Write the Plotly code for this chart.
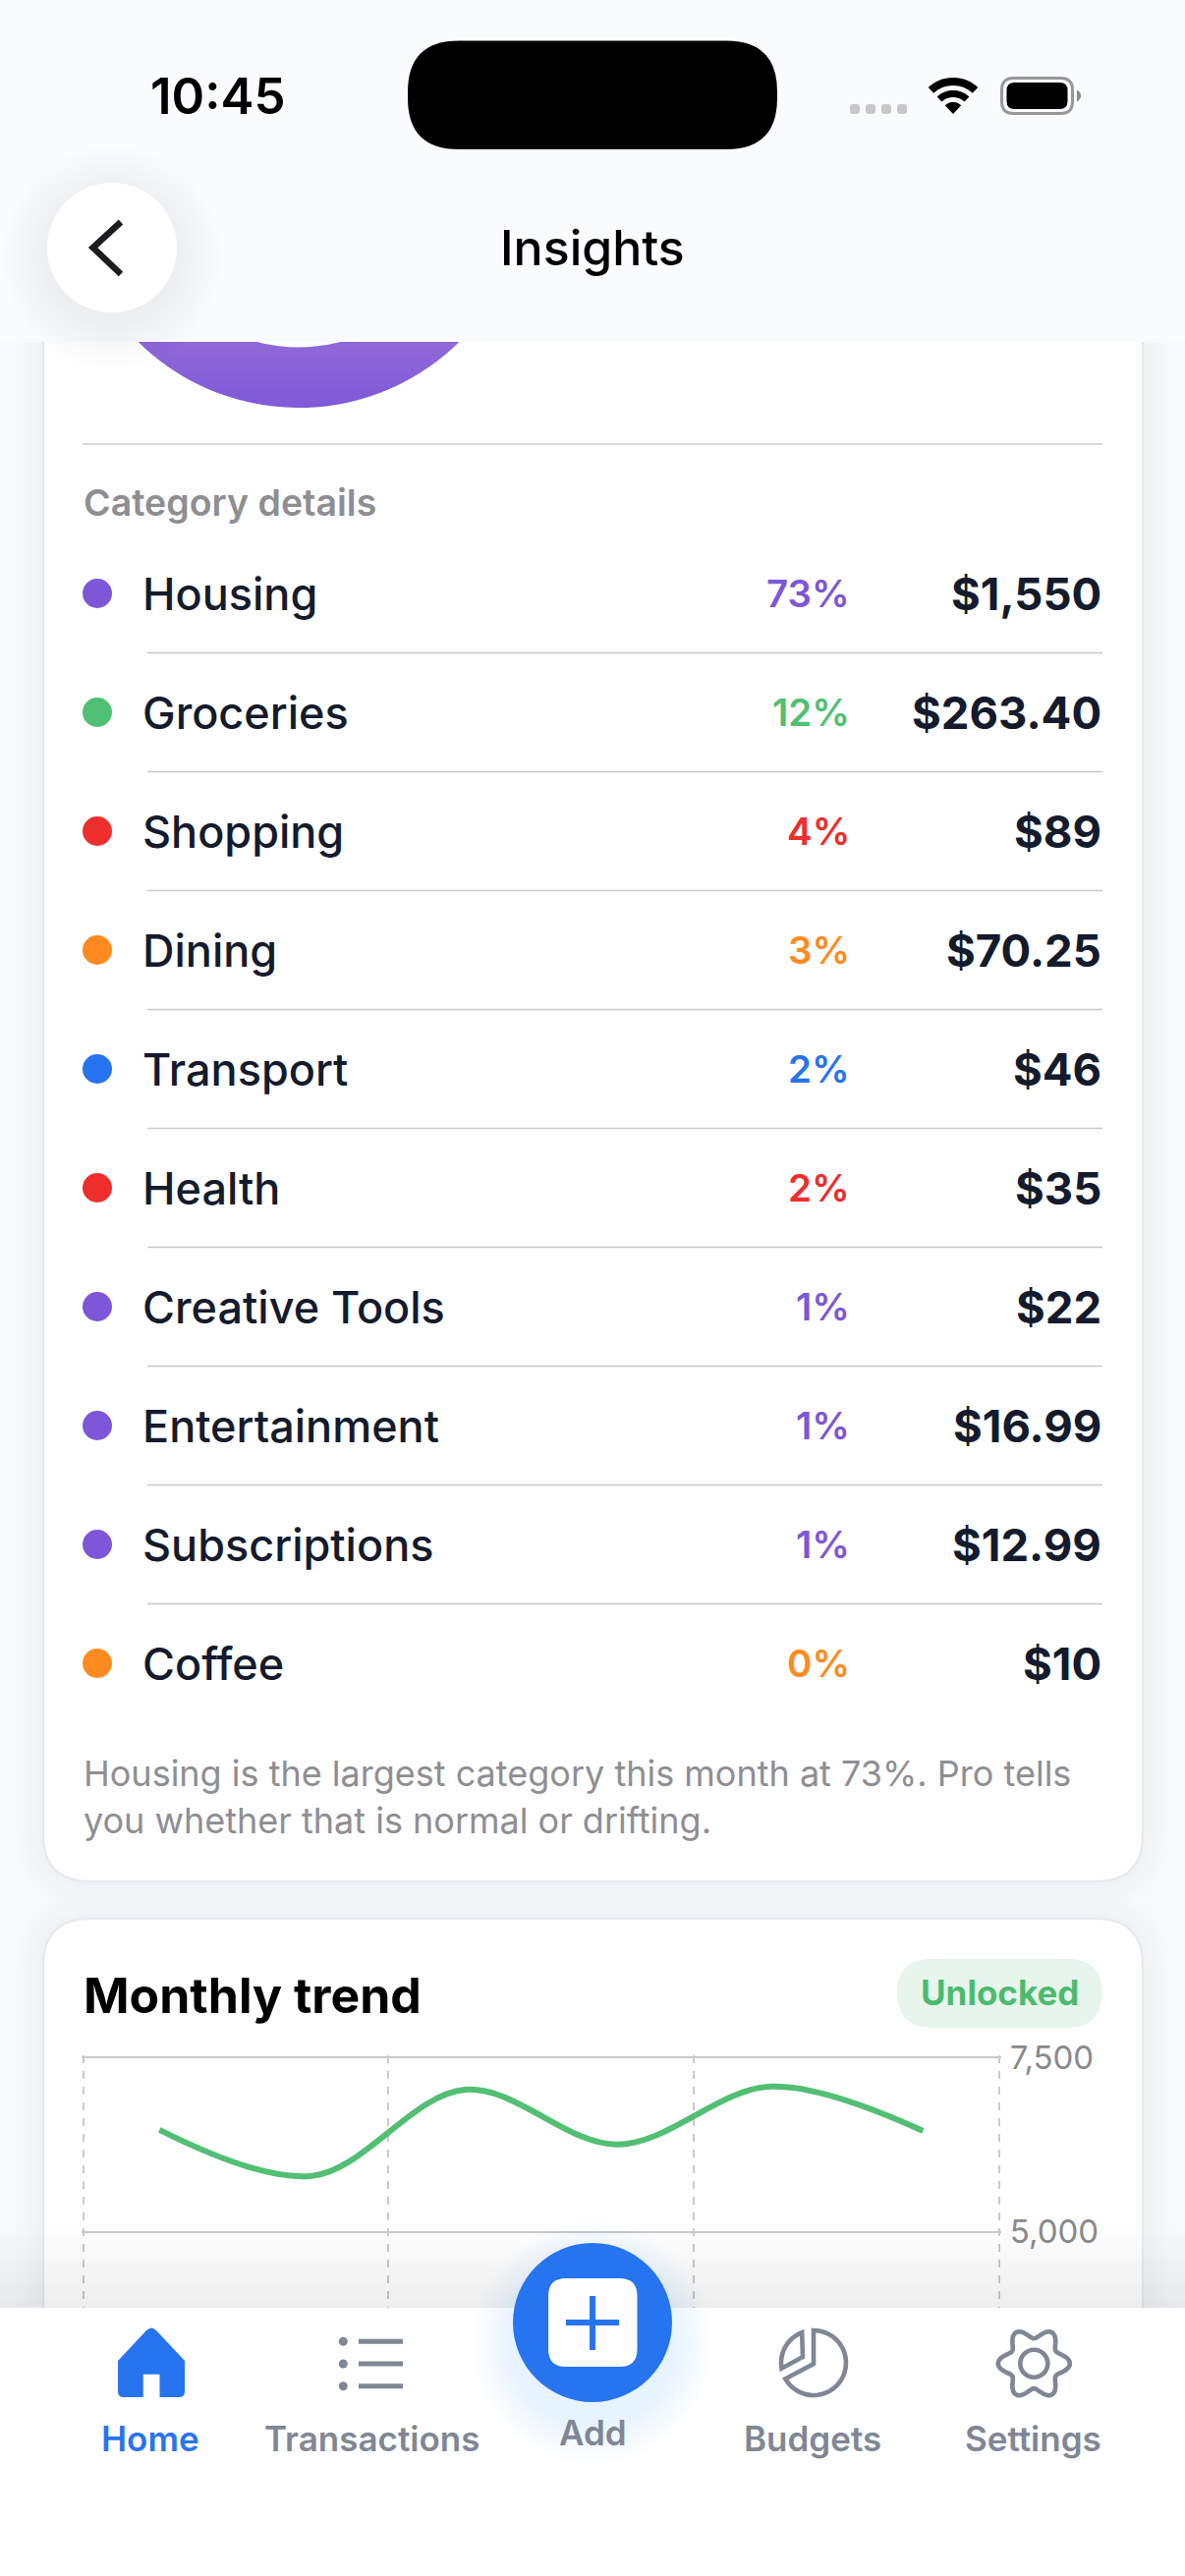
import numpy as np
import plotly.graph_objects as go

# category table
categories = ['Housing', 'Groceries', 'Shopping', 'Dining', 'Transport', 'Health',
              'Creative Tools', 'Entertainment', 'Subscriptions', 'Coffee']
percents = ['73%', '12%', '4%', '3%', '2%', '2%', '1%', '1%', '1%', '0%']
amounts = [1550, 263.40, 89, 70.25, 46, 35, 22, 16.99, 12.99, 10]
amount_labels = ['$1,550', '$263.40', '$89', '$70.25', '$46', '$35', '$22', '$16.99', '$12.99', '$10']
cat_colors = ['#7d57d8', '#4fc074', '#ee2d2d', '#ff8a1f', '#2774f0', '#ee2d2d',
              '#7d57d8', '#7d57d8', '#7d57d8', '#ff8a1f']

# monthly trend, only the top of it shows above the tab bar
month_index = [0, 1, 2, 3, 4, 5]
month_totals = [6460, 5800, 7035, 6250, 7080, 6445]
y_ticks = [5000, 7500]
x_grid = [-0.5, 1.5, 3.5, 5.5]

tab_labels = ['Home', 'Transactions', 'Add', 'Budgets', 'Settings']
tab_x = [153, 378, 603, 827, 1051.5]

W, H = 1206, 2622
# the donut starts above the top of the screen, so the figure is taller and the page is shifted up
OFF, EXTRA = 60, 12
TOTAL = H + OFF + EXTRA

INK = '#141b2d'
GREY = '#8e8e93'
ICON = '#7f8795'
BLUE = '#2774f0'
RULE = '#c9c9ce'
FONT = 'Inter'

shapes = []
notes = []


def paper_y(y):
    return 1 - (y + OFF) / TOTAL


def rrect(x0, y0, x1, y1, r):
    return (f'M{x0+r},{y0} L{x1-r},{y0} Q{x1},{y0} {x1},{y0+r} L{x1},{y1-r} Q{x1},{y1} {x1-r},{y1} '
            f'L{x0+r},{y1} Q{x0},{y1} {x0},{y1-r} L{x0},{y0+r} Q{x0},{y0} {x0+r},{y0} Z')


def arc(cx, cy, r, a0, a1, n=40, start='M'):
    # angles in degrees, clockwise from 12 o'clock
    a = np.radians(np.linspace(a0, a1, n))
    xs = cx + r * np.sin(a)
    ys = cy - r * np.cos(a)
    return start + ' L'.join(f'{x:.2f},{y:.2f}' for x, y in zip(xs, ys))


def path(d, fill='rgba(0,0,0,0)', color=None, width=0, layer='above'):
    shapes.append(dict(type='path', path=d, xref='x', yref='y', fillcolor=fill, layer=layer,
                       line=dict(color=color or 'rgba(0,0,0,0)', width=width)))


def circle(cx, cy, r, fill, color=None, width=0, layer='above'):
    shapes.append(dict(type='circle', x0=cx-r, x1=cx+r, y0=cy-r, y1=cy+r, xref='x', yref='y',
                       fillcolor=fill, layer=layer,
                       line=dict(color=color or 'rgba(0,0,0,0)', width=width)))


def box(x0, y0, x1, y1, fill, layer='above'):
    shapes.append(dict(type='rect', x0=x0, x1=x1, y0=y0, y1=y1, xref='x', yref='y',
                       fillcolor=fill, layer=layer, line=dict(width=0)))


def seg(x0, y0, x1, y1, color=RULE, width=1.7, layer='below'):
    shapes.append(dict(type='line', x0=x0, x1=x1, y0=y0, y1=y1, xref='x', yref='y',
                       layer=layer, line=dict(color=color, width=width)))


def text(s, x, y, size, color, weight=400, anchor='left'):
    notes.append(dict(text=s, x=x, y=y, xref='x', yref='y', xanchor=anchor, yanchor='middle',
                      showarrow=False, align=anchor,
                      font=dict(family=FONT, size=size, color=color, weight=weight)))


# --- page and cards
box(0, -OFF, W, H + EXTRA, '#f8f9fd', layer='below')
for card in [(44, 200, 1163, 1915), (44, 1953, 1163, 2700)]:
    for i in range(7, 0, -1):
        path(rrect(card[0]-i*4, card[1]-i*4, card[2]+i*4, card[3]+i*4, 48+i*4),
             fill='rgba(0,0,0,0.0045)', layer='below')
for card in [(44, 200, 1163, 1915), (44, 1953, 1163, 2700)]:
    path(rrect(*card, 48), fill='#fefefe', color='#e6e8ee', width=2, layer='below')

# --- category rows
seg(84, 452, 1122, 452)
text('Category details', 83, 511, 37.5, GREY, 600)
row_y = [604 + 121 * i for i in range(len(categories))]
for i, name in enumerate(categories):
    text(name, 142.5, row_y[i], 45, INK, 500)
    text(percents[i], 866.5, row_y[i], 38.5, cat_colors[i], 600, 'right')
    text(amount_labels[i], 1123, row_y[i], 45.5, INK, 700, 'right')
    if i < len(categories) - 1:
        seg(150, row_y[i] + 60.5, 1122, row_y[i] + 60.5)
text('Housing is the largest category this month at 73%. Pro tells', 83, 1805, 36, GREY)
text('you whether that is normal or drifting.', 83, 1853, 36, GREY)

# --- monthly trend heading
text('Monthly trend', 83, 2031, 50, '#000000', 700)
path(rrect(913, 1994, 1121.5, 2063.5, 34.7), fill='#e8f5ec', layer='below')
text('Unlocked', 1017, 2028, 35, '#4cbb70', 700, 'center')

# --- fade into the tab bar and out of the header
for j in range(16):
    box(0, 2268 + j*5, W, 2349, 'rgba(0,0,0,0.005)')
for i in range(18):
    box(0, 348, W, 420 - i*4, 'rgba(255,255,255,0.012)')

# --- header
box(0, -OFF, W, 348, '#fafbff')
text('10:45', 222, 97, 51, '#000000', 600, 'center')
text('Insights', 603, 252, 50, '#000000', 500, 'center')
path(rrect(415, 41.5, 791, 152, 52), fill='#000000')

for x in [870, 886, 902, 918]:
    path(rrect(x-5, 106, x+5, 116, 3), fill='#c8c8cc')
# wifi fan
for r_out, r_in in [(37, 29), (24, 17)]:
    d = arc(970, 116, r_out, -43, 43, 24) + arc(970, 116, r_in, 43, -43, 24, ' L') + ' Z'
    path(d, fill='#000000')
path(arc(970, 116, 12, -43, 43, 10) + ' L970,116 Z', fill='#000000')
# battery
path(rrect(1019.5, 79.5, 1091.5, 115.5, 12), color='#98989c', width=3)
path(rrect(1024.5, 84, 1086.5, 111, 8), fill='#000000')
path('M1096,91.5 Q1100,94 1100,97.5 Q1100,101 1096,103.5 Z', fill='#8a8a8e')

# back button with its soft shadow
for i in range(12, 0, -1):
    circle(114, 262, 66 + i*4, 'rgba(0,0,0,0.0045)')
circle(114, 252, 66, '#ffffff')
path('M123,226 L94.6,252 L123,279', color='#1c1c22', width=6.5)

# --- tab bar
box(0, 2349, W, H + EXTRA, '#ffffff')
# home
path('M120,2403 L149,2372 Q154,2367 159,2372 L188,2403 L188,2434 Q188,2440 182,2440 L162.5,2440 '
     'L162.5,2416.7 L145.7,2416.7 L145.7,2440 L126,2440 Q120,2440 120,2434 Z', fill=BLUE)
# list
for y in [2383.3, 2406, 2428.7]:
    circle(349.3, y, 4.5, ICON)
    seg(365, y, 410, y, color=ICON, width=5, layer='above')
# budgets pie
path(arc(828, 2405, 33, 0, 240.5) + ' L828,2406 Z', color=ICON, width=4.6)
path(arc(828, 2405, 33, 260, 339, 16) + ' L817,2399 Z', color=ICON, width=4.6)
# settings gear
gear_a = np.linspace(0, 360, 145)
gear_r = 31 + 5.5 * np.cos(np.radians(6 * (gear_a - 30)))
gear_x = 1052.3 + gear_r * np.sin(np.radians(gear_a))
gear_y = 2405.7 - gear_r * np.cos(np.radians(gear_a))
path('M' + ' L'.join(f'{x:.2f},{y:.2f}' for x, y in zip(gear_x, gear_y)) + ' Z', color=ICON, width=4.6)
circle(1052.3, 2405.7, 14, 'rgba(0,0,0,0)', color=ICON, width=4.6)

# add button, glow sits on top of the bar
for i in range(12, 0, -1):
    circle(603, 2385, 81 + i*3.5, 'rgba(39,116,240,0.007)')
circle(603, 2364, 81, BLUE)
path(rrect(558, 2319, 648.5, 2409, 18), fill='#ffffff')
seg(603, 2337, 603, 2392, color=BLUE, width=6, layer='above')
seg(576, 2364, 630, 2364, color=BLUE, width=6, layer='above')

for i, label in enumerate(tab_labels):
    col = BLUE if label == 'Home' else ICON
    text(label, tab_x[i], 2475.5 if label == 'Add' else 2482, 35, col, 600, 'center')

# --- traces
fig = go.Figure()
fig.add_trace(go.Pie(labels=categories, values=amounts, hole=0.736, sort=False, direction='clockwise',
                     rotation=0, textinfo='none', hoverinfo='label+value',
                     marker=dict(colors=cat_colors, line=dict(width=0)),
                     domain=dict(x=[71 / W, 537 / W], y=[paper_y(415), paper_y(-51)])))
fig.add_trace(go.Scatter(x=[99] * len(categories), y=row_y, mode='markers', text=categories,
                         marker=dict(size=30, color=cat_colors, line=dict(width=0)),
                         xaxis='x', yaxis='y', hoverinfo='text'))
fig.add_trace(go.Scatter(x=month_index, y=month_totals, mode='lines', xaxis='x2', yaxis='y2',
                         line=dict(color='#52bf74', width=6, shape='spline', smoothing=1.0)))

# ranges are a hair wider than the outer gridlines, plotly drops gridlines sitting on the plot edge
X_PAD, Y_PAD = 0.012, 30
band = (1017 - 84.6) / 6
per_px = 2500 / 177.6

fig.update_layout(
    template='none', width=W, height=TOTAL, autosize=False, showlegend=False,
    margin=dict(l=0, r=0, t=0, b=0, pad=0), paper_bgcolor='#f8f9fd', plot_bgcolor='rgba(0,0,0,0)',
    shapes=shapes, annotations=notes,
    # pixel-sized axes for the screen furniture
    xaxis=dict(domain=[0, 1], range=[0, W], visible=False, fixedrange=True, automargin=False),
    yaxis=dict(domain=[0, 1], range=[H + EXTRA, -OFF], visible=False, fixedrange=True, automargin=False),
    xaxis2=dict(domain=[(84.6 - X_PAD*band) / W, (1017 + X_PAD*band) / W],
                range=[-0.5 - X_PAD, 5.5 + X_PAD], anchor='y2', tickvals=x_grid, automargin=False,
                showticklabels=False, ticks='', zeroline=False, showline=False, showgrid=True,
                gridcolor='#cbcbcf', gridwidth=1.7, griddash='8px,8px', fixedrange=True),
    yaxis2=dict(domain=[paper_y(2626.7), paper_y(2094 - Y_PAD/per_px)], range=[0, 7500 + Y_PAD],
                anchor='x2', side='right', automargin=False,
                tickvals=y_ticks, tickformat=',d', ticks='', ticklabelstandoff=8,
                tickfont=dict(family=FONT, size=33, color='#8a8a8e'), zeroline=False, showline=False,
                showgrid=True, gridcolor=RULE, gridwidth=1.7, fixedrange=True),
)

fig.write_html("out.html", config=dict(displayModeBar=False),
               post_script=f"document.body.style.margin='-{OFF}px 0 0 0';document.body.style.overflow='hidden';")
